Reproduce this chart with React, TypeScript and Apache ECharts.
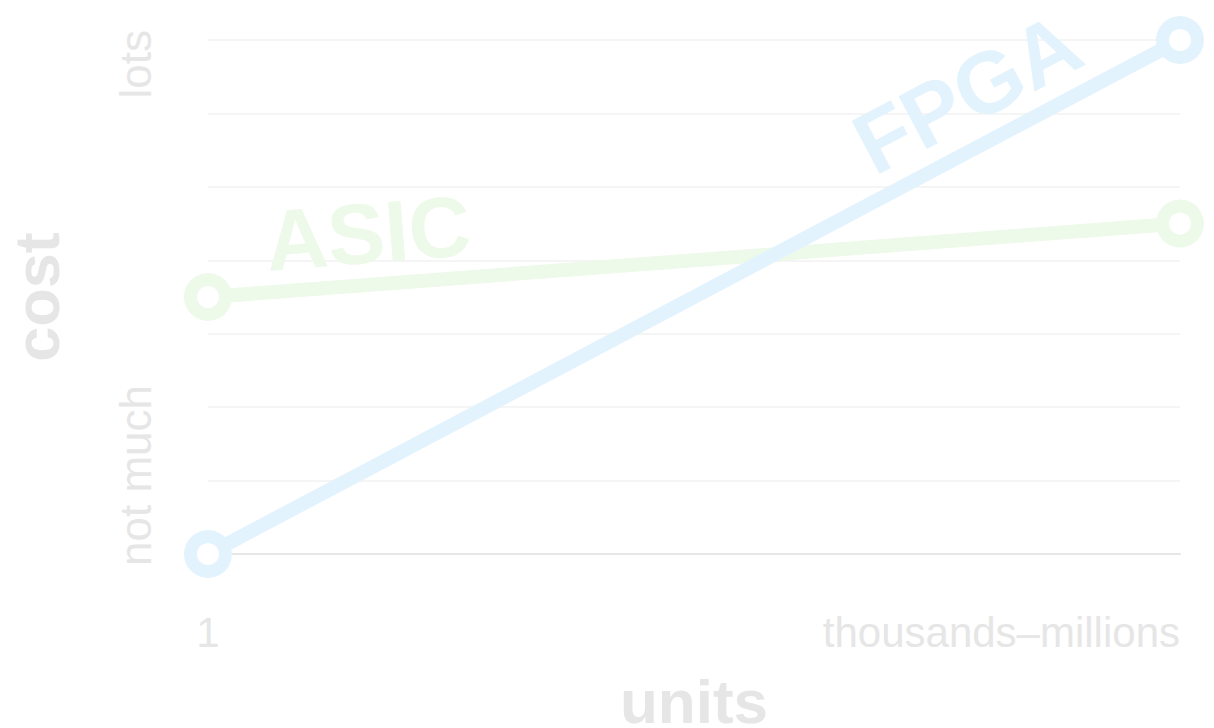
import React, { useEffect, useRef } from "react";
import * as echarts from "echarts";

const categories = ["1", "thousands–millions"];
const fpgaValues = [0, 7];
const asicValues = [3.5, 4.5];
const yTickLabels = { low: "not much", high: "lots" };

const BLUE = "#e3f3fd";
const GREEN = "#edf9e9";
const GRAY = "#e6e6e6";
const FONT = "'Liberation Sans', Arial, Helvetica, sans-serif";

export default function App() {
  const ref = useRef<HTMLDivElement>(null);
  useEffect(() => {
    document.body.style.margin = "0";
    const chart = echarts.init(ref.current!, null, { renderer: "svg" });
    const sym = (c: string) => ({
      symbol: "circle",
      symbolSize: 35,
      smooth: false,
      itemStyle: { color: "#ffffff", borderColor: c, borderWidth: 13 },
      lineStyle: { color: c, width: 14 },
    });
    chart.setOption({
      animation: false,
      backgroundColor: "#ffffff",
      grid: { left: 208, right: 34, top: 40, bottom: 174, containLabel: false, outerBoundsMode: "none" },
      xAxis: {
        type: "category",
        data: categories,
        boundaryGap: false,
        axisLine: { show: true, lineStyle: { color: GRAY, width: 2 } },
        axisTick: { show: false },
        axisLabel: {
          color: GRAY,
          fontSize: 42,
          fontFamily: FONT,
          margin: 57,
          alignMinLabel: "center",
          alignMaxLabel: "right",
        },
        name: "units",
        nameLocation: "middle",
        nameGap: 116,
        nameTextStyle: { color: GRAY, fontSize: 62, fontWeight: "bold", fontFamily: FONT },
      },
      yAxis: {
        type: "value",
        min: 0,
        max: 7,
        interval: 1,
        axisLine: { show: false },
        axisTick: { show: false },
        axisLabel: { show: false },
        splitLine: { lineStyle: { color: "#f5f5f5", width: 2 } },
        name: "cost",
        nameLocation: "middle",
        nameRotate: 90,
        nameGap: 140,
        nameTextStyle: { color: GRAY, fontSize: 63, fontWeight: "bold", fontFamily: FONT },
      },
      graphic: [
        {
          type: "text",
          x: 157,
          y: 566,
          rotation: Math.PI / 2,
          style: { text: yTickLabels.low, fill: GRAY, fontSize: 44, fontFamily: FONT, align: "left", verticalAlign: "bottom" },
        },
        {
          type: "text",
          x: 157,
          y: 30,
          rotation: Math.PI / 2,
          style: { text: yTickLabels.high, fill: GRAY, fontSize: 44, fontFamily: FONT, align: "right", verticalAlign: "bottom" },
        },
        {
          type: "text",
          x: 368,
          y: 233,
          rotation: (4.5 * Math.PI) / 180,
          z: 10,
          style: { text: "ASIC", fill: GREEN, fontSize: 86, fontWeight: "bold", fontFamily: FONT, align: "center", verticalAlign: "middle" },
        },
        {
          type: "text",
          x: 967,
          y: 93,
          rotation: (27.9 * Math.PI) / 180,
          z: 10,
          style: { text: "FPGA", fill: BLUE, fontSize: 87, fontWeight: "bold", fontFamily: FONT, align: "center", verticalAlign: "middle" },
        },
      ],
      series: [
        { name: "ASIC", type: "line", data: asicValues, ...sym(GREEN), z: 2 },
        { name: "FPGA", type: "line", data: fpgaValues, ...sym(BLUE), z: 3 },
      ],
    });
    return () => chart.dispose();
  }, []);
  return <div ref={ref} style={{ width: 1214, height: 728 }} />;
}
